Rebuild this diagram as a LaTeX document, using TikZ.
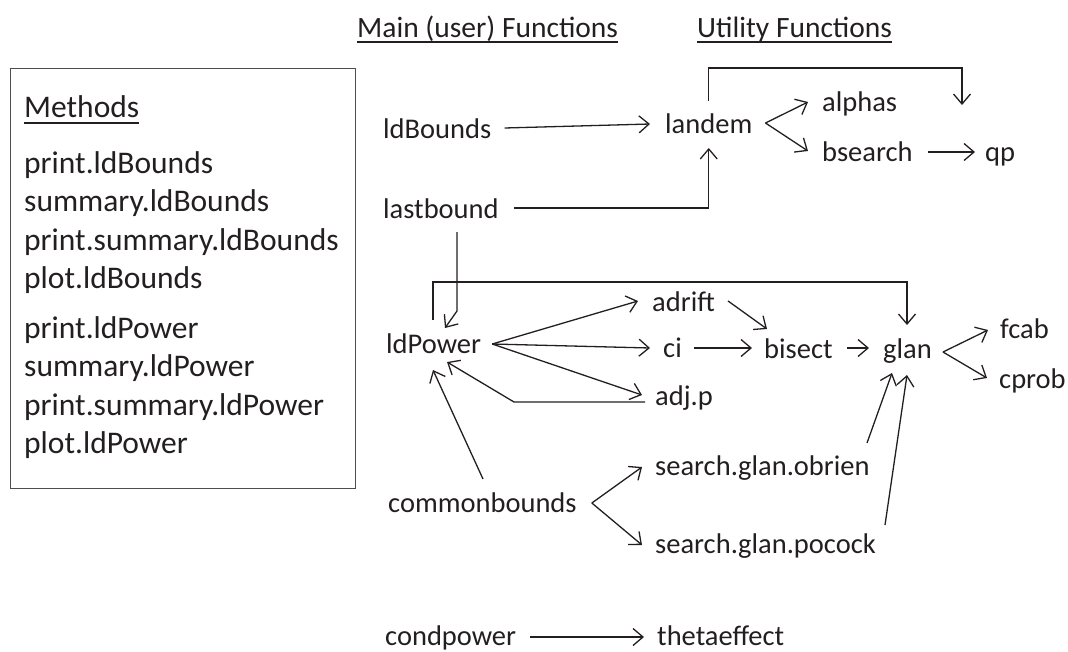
\documentclass[tikz,border=0pt]{standalone}
\usepackage{fontspec}
\setmainfont{Carlito}
\usetikzlibrary{arrows.meta,calc}
\definecolor{ink}{RGB}{35,31,32}
\begin{document}
\begin{tikzpicture}[x=1pt,y=-1pt,
  fn/.style={anchor=base west,inner sep=0pt,font=\fontsize{28.5}{30}\selectfont,text=ink},
  mt/.style={anchor=base west,inner sep=0pt,font=\fontsize{31.5}{33}\selectfont,text=ink},
  hd/.style={anchor=base west,inner sep=0pt,font=\fontsize{29.5}{30}\selectfont,text=ink},
  ln/.style={draw=ink,line width=1.3pt},
  arr/.style={ln,-{Straight Barb[length=10pt,width=17pt,line width=1.3pt]}},
  ul/.style={draw=ink,line width=1.8pt}]
\useasboundingbox (0,0) rectangle (1068,651);

% headers
\node[hd] (hmain) at (357,37) {Main (user) Functions};
\node[hd] (hutil) at (697,37) {Utility Functions};
\draw[ul] ([shift={(0,5)}]hmain.base west) -- ([shift={(0,5)}]hmain.base east);
\draw[ul] ([shift={(0,5)}]hutil.base west) -- ([shift={(0,5)}]hutil.base east);

% methods box
\node[draw=ink!80,line width=1.3pt,minimum width=345pt,minimum height=420pt,anchor=north west,inner sep=0pt] (box) at (10,68) {};
\node[mt] (meth) at (24,117) {Methods};
\draw[ul] ([shift={(0,6)}]meth.base west) -- ([shift={(0,6)}]meth.base east);
\node[mt] (m1) at (24,173) {print.ldBounds};
\node[mt] (m2) at (24,211.5) {summary.ldBounds};
\node[mt] (m3) at (24,250) {print.summary.ldBounds};
\node[mt] (m4) at (24,288.5) {plot.ldBounds};
\node[mt] (m5) at (24,338) {print.ldPower};
\node[mt] (m6) at (24,376.5) {summary.ldPower};
\node[mt] (m7) at (24,415) {print.summary.ldPower};
\node[mt] (m8) at (24,453.5) {plot.ldPower};

% function nodes
\node[fn] (ldb) at (383,138) {ldBounds};
\node[fn] (lastb) at (383,218) {lastbound};
\node[fn] (ldp) at (386,353) {ldPower};
\node[fn] (comm) at (388,512) {commonbounds};
\node[fn] (condp) at (385,645) {condpower};
\node[fn] (theta) at (657,645) {thetaeffect};
\node[fn] (landem) at (665,133) {landem};
\node[fn] (alphas) at (822,111) {alphas};
\node[fn] (bsearch) at (822,161) {bsearch};
\node[fn] (qp) at (985,161) {qp};
\node[fn] (adrift) at (652,311) {adrift};
\node[fn] (ci) at (663,357) {ci};
\node[fn] (adjp) at (655,405) {adj.p};
\node[fn] (bisect) at (764,358) {bisect};
\node[fn] (glan) at (883,358) {glan};
\node[fn] (fcab) at (1000,338) {fcab};
\node[fn] (cprob) at (999,388) {cprob};
\node[fn] (obrien) at (655,475) {search.glan.obrien};
\node[fn] (pocock) at (655,553) {search.glan.pocock};

% connectors
\draw[arr] ([shift={(13,-10)}]ldb.base east) -- ([shift={(-15,-9)}]landem.base west);
\draw[arr] ([shift={(15,-10)}]lastb.base east) -| ([shift={(0,15)}]landem.base);
\draw[arr] ([shift={(0,-32)}]landem.base) -- ++(0,-33) -| ([shift={(-23,-56)}]qp.base west);
\draw[arr] ([shift={(13,-10)}]landem.base east) -- ([shift={(-14,-9)}]alphas.base west);
\draw[arr] ([shift={(13,-10)}]landem.base east) -- ([shift={(-14,-10)}]bsearch.base west);
\draw[arr] ([shift={(15,-9)}]bsearch.base east) -- ([shift={(-10,-9)}]qp.base west);

\draw[arr] ([shift={(74,14)}]lastb.base west) -- ++(0,79) -- ([shift={(59,-25)}]ldp.base west);
\draw[arr] ([shift={(47,-33)}]ldp.base west) -- ++(0,-38) -| ([shift={(24,-33)}]glan.base west);

\coordinate (fan) at ([shift={(11,-9)}]ldp.base east);
\draw[arr] (fan) -- ([shift={(-14,-10)}]adrift.base west);
\draw[arr] (fan) -- ([shift={(-13,-9)}]ci.base west);
\draw[arr] (fan) -- ([shift={(-13,-10)}]adjp.base west);
\draw[arr] ([shift={(-10,-3)}]adjp.base west) -- ++(-131,0) -- ([shift={(61,9)}]ldp.base west);
\draw[arr] ([shift={(95,-33)}]comm.base west) -- ([shift={(47,17)}]ldp.base west);

\draw[arr] ([shift={(13,-10)}]adrift.base east) -- ([shift={(3,-29)}]bisect.base west);
\draw[arr] ([shift={(12,-9)}]ci.base east) -- ([shift={(-12,-10)}]bisect.base west);
\draw[arr] ([shift={(14,-10)}]bisect.base east) -- ([shift={(-14,-10)}]glan.base west);

\coordinate (gfan) at ([shift={(11,-6)}]glan.base east);
\draw[arr] (gfan) -- ([shift={(-12,-8)}]fcab.base west);
\draw[arr] (gfan) -- ([shift={(-12,-10)}]cprob.base west);

\draw[arr] ([shift={(212,-32)}]obrien.base west) -- ([shift={(9,15)}]glan.base west);
\draw[arr] ([shift={(230,-28)}]pocock.base west) -- ([shift={(24,17)}]glan.base west);

\coordinate (cfan) at ([shift={(15,-9)}]comm.base east);
\draw[arr] (cfan) -- ([shift={(-13,-8)}]obrien.base west);
\draw[arr] (cfan) -- ([shift={(-13,-8)}]pocock.base west);

\draw[arr] ([shift={(14,-8)}]condp.base east) -- ([shift={(-13,-8)}]theta.base west);
\end{tikzpicture}
\end{document}
